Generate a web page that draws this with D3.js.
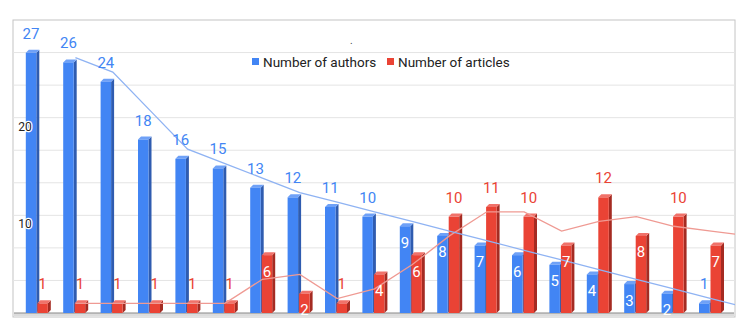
<!DOCTYPE html>
<html>
<head>
<meta charset="utf-8">
<script src="https://cdn.jsdelivr.net/npm/d3@7"></script>
<style>
  body { margin: 0; background: #fff; }
  svg { display: block; font-family: Roboto, "Noto Sans", sans-serif; }
</style>
</head>
<body>
<div id="chart"></div>
<script>
// data
const seriesNames = ["Number of authors", "Number of articles"];
const authors  = [27, 26, 24, 18, 16, 15, 13, 12, 11, 10, 9, 8, 7, 6, 5, 4, 3, 2, 1];
const articles = [1, 1, 1, 1, 1, 1, 6, 2, 1, 4, 6, 10, 11, 10, 7, 12, 8, 10, 7];
const yTickLabels = [10, 20];

const width = 750, height = 330;
const frame = {left: 13, right: 735, top: 20, bottom: 317};
const baseY = 313;
const colors = {
  blue: "#4285f4", blueSide: "#2f5cb0", blueTop: "#6fa1f7",
  red: "#ea4335", redSide: "#a52b22", redTop: "#f0726a",
  blueLine: "#8fb3f3", redLine: "#ef9a93"
};

const svg = d3.select("#chart").append("svg")
  .attr("width", width)
  .attr("height", height);

// scales
const y = d3.scaleLinear().domain([0, 30.4]).range([baseY, frame.top]);
const x = d3.scaleBand().domain(d3.range(authors.length)).range([19.3, 729.9]).padding(0);

// frame + gridlines
svg.append("rect")
  .attr("x", frame.left).attr("y", frame.top)
  .attr("width", frame.right - frame.left).attr("height", frame.bottom - frame.top)
  .attr("fill", "none").attr("stroke", "#c4c4c4");

const nGrid = 9;
for (let k = 1; k < nGrid; k++) {
  let gy = baseY - (baseY - frame.top) * k / nGrid;
  svg.append("line")
    .attr("x1", frame.left).attr("x2", frame.right)
    .attr("y1", gy).attr("y2", gy)
    .attr("stroke", "#e4e4e4");
}
// floor
svg.append("rect")
  .attr("x", frame.left + 1).attr("y", baseY)
  .attr("width", frame.right - frame.left - 2).attr("height", frame.bottom - baseY - 1)
  .attr("fill", "#dcdcdc");
svg.append("line")
  .attr("x1", frame.left + 1).attr("x2", frame.right - 1)
  .attr("y1", baseY).attr("y2", baseY)
  .attr("stroke", "#8a8a8a").attr("stroke-width", 1.2);

// 3d bars
const barW = 10.5, depth = 3;
function drawBar(x0, v, front, side, top) {
  let t = y(v);
  let g = svg.append("g");
  g.append("polygon")
    .attr("points", [[x0 + barW, t], [x0 + barW + depth, t - depth], [x0 + barW + depth, baseY - depth], [x0 + barW, baseY]].join(" "))
    .attr("fill", side);
  g.append("polygon")
    .attr("points", [[x0, t], [x0 + barW, t], [x0 + barW + depth, t - depth], [x0 + depth, t - depth]].join(" "))
    .attr("fill", top);
  g.append("rect")
    .attr("x", x0).attr("y", t)
    .attr("width", barW).attr("height", baseY - t)
    .attr("fill", front);
}

const offBlue = 6.5, offRed = 18;
authors.forEach((v, i) => drawBar(x(i) + offBlue, v, colors.blue, colors.blueSide, colors.blueTop));
articles.forEach((v, i) => drawBar(x(i) + offRed, v, colors.red, colors.redSide, colors.redTop));

// moving average trendlines (period 2), clipped to the frame
svg.append("clipPath").attr("id", "plotclip")
  .append("rect")
  .attr("x", frame.left).attr("y", frame.top)
  .attr("width", frame.right - frame.left).attr("height", baseY - frame.top);

function movingAvg(vals) {
  let pts = [];
  for (let i = 1; i < vals.length; i++) {
    pts.push({i: i, v: (vals[i - 1] + vals[i]) / 2});
  }
  // continue the last segment out to the frame edge
  let a = pts[pts.length - 2], b = pts[pts.length - 1];
  pts.push({i: b.i + 1, v: b.v + (b.v - a.v)});
  return pts;
}
const line = d3.line()
  .x(d => x(0) + x.bandwidth() * (d.i + 0.5))
  .y(d => y(d.v));

svg.append("path").datum(movingAvg(articles))
  .attr("d", line).attr("fill", "none")
  .attr("stroke", colors.redLine).attr("stroke-width", 1.3)
  .attr("clip-path", "url(#plotclip)");
svg.append("path").datum(movingAvg(authors))
  .attr("d", line).attr("fill", "none")
  .attr("stroke", colors.blueLine).attr("stroke-width", 1.3)
  .attr("clip-path", "url(#plotclip)");

// data labels: inside the bar when 2..9, otherwise above
function drawLabels(vals, off, color) {
  vals.forEach((v, i) => {
    let inside = v >= 2 && v <= 9;
    svg.append("text")
      .attr("x", x(i) + off + barW / 2)
      .attr("y", inside ? y(v) + 21.5 : y(v) - 14)
      .attr("text-anchor", "middle")
      .attr("font-size", "15px")
      .attr("fill", inside ? "#fff" : color)
      .text(v);
  });
}
drawLabels(authors, offBlue, colors.blue);
drawLabels(articles, offRed, colors.red);

// y labels (sitting over the first bar, with a white halo)
yTickLabels.forEach(t => {
  svg.append("text")
    .attr("x", 25).attr("y", y(t) + 11)
    .attr("text-anchor", "middle")
    .attr("font-size", "12px")
    .attr("fill", "#222")
    .attr("stroke", "#fff").attr("stroke-width", 2.5)
    .attr("paint-order", "stroke")
    .text(t);
});

// legend
const legendX = [252, 387];
[colors.blue, colors.red].forEach((c, k) => {
  svg.append("rect")
    .attr("x", legendX[k]).attr("y", 58)
    .attr("width", 7).attr("height", 7)
    .attr("fill", c);
  svg.append("text")
    .attr("x", legendX[k] + 11).attr("y", 67)
    .attr("font-size", "13.5px")
    .attr("fill", "#222")
    .text(seriesNames[k]);
});

// stray title dot
svg.append("text")
  .attr("x", 350).attr("y", 44)
  .attr("font-size", "10px").attr("fill", "#444")
  .text(".");
</script>
</body>
</html>
